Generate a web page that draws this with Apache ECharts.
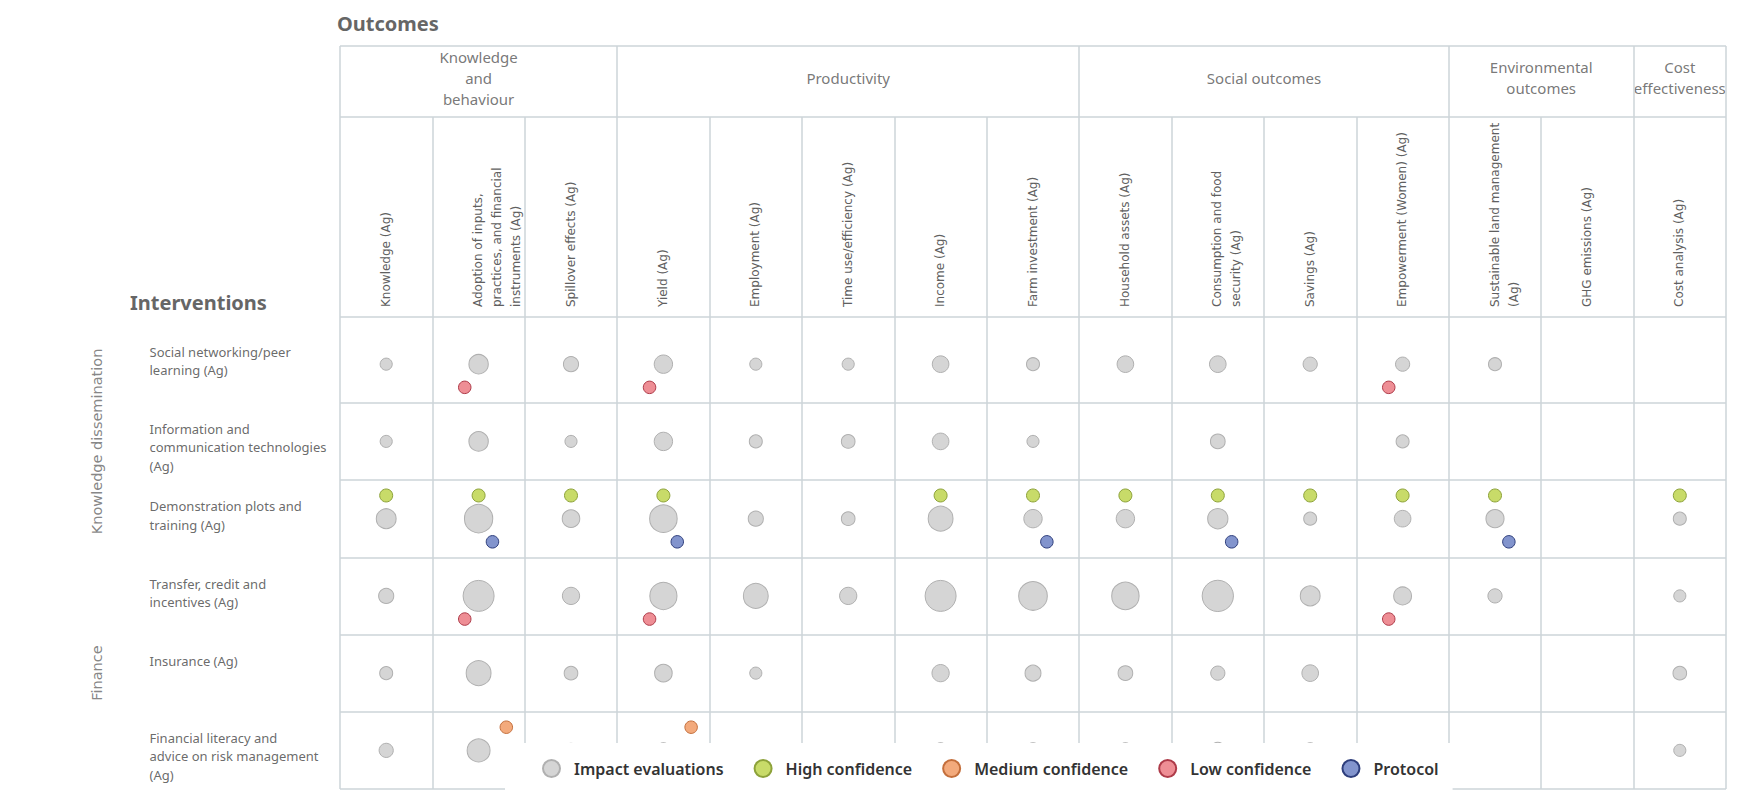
<!DOCTYPE html>
<html><head><meta charset="utf-8">
<script src="https://cdn.jsdelivr.net/npm/echarts@6/dist/echarts.min.js"></script>
<style>html,body{margin:0;padding:0;background:#fff;overflow:hidden}#c{width:1763px;height:795px}</style>
</head><body><div id="c"></div>
<script>
// ---------------- DATA ----------------
const outcomeLabels = [
  'Knowledge (Ag)',
  'Adoption of inputs,\npractices, and financial\ninstruments (Ag)',
  'Spillover effects (Ag)',
  'Yield (Ag)',
  'Employment (Ag)',
  'Time use/efficiency (Ag)',
  'Income (Ag)',
  'Farm investment (Ag)',
  'Household assets (Ag)',
  'Consumption and food\nsecurity (Ag)',
  'Savings (Ag)',
  'Empowerment (Women) (Ag)',
  'Sustainable land management\n(Ag)',
  'GHG emissions (Ag)',
  'Cost analysis (Ag)'
];
const outcomeGroups = ['Knowledge\nand\nbehaviour', 'Productivity', 'Social outcomes', 'Environmental\noutcomes', 'Cost\neffectiveness'];
const outcomeGroupSpans = [3, 5, 4, 2, 1];
const interventions = [
  'Social networking/peer\nlearning (Ag)',
  'Information and\ncommunication technologies\n(Ag)',
  'Demonstration plots and\ntraining (Ag)',
  'Transfer, credit and\nincentives (Ag)',
  'Insurance (Ag)',
  'Financial literacy and\nadvice on risk management\n(Ag)'
];
const interventionGroups = ['Knowledge dissemination', 'Finance'];
const interventionGroupSpans = [3, 3];
// number of impact evaluations per cell (rows = interventions, cols = outcomes; null = none)
const impactEvaluations = [
  [1, 20, 6, 16, 1, 1, 10, 2, 10, 10, 4, 4, 2, null, null],
  [1, 20, 1, 16, 2, 3, 10, 1, null, 5, null, 2, null, null, null],
  [22, 76, 13, 70, 6, 3, 50, 16, 16, 24, 2, 10, 15, null, 2],
  [6, 100, 12, 67, 50, 12, 100, 79, 69, 103, 22, 14, 4, null, 1],
  [2, 50, 3, 13, 1, null, 12, 8, 5, 4, 10, null, null, null, 3],
  [4, 38, 4, 6, null, null, 6, 6, 6, 8, 6, null, null, null, 1]
];
// cells [row, col] holding a systematic review of each confidence level, or a protocol
const highConfidence = [[2,0],[2,1],[2,2],[2,3],[2,6],[2,7],[2,8],[2,9],[2,10],[2,11],[2,12],[2,14]];
const mediumConfidence = [[5,1],[5,3]];
const lowConfidence = [[0,1],[0,3],[0,11],[3,1],[3,3],[3,11]];
const protocols = [[2,1],[2,3],[2,7],[2,9],[2,12]];
const legendNames = ['Impact evaluations', 'High confidence', 'Medium confidence', 'Low confidence', 'Protocol'];

// ---------------- STYLE / LAYOUT ----------------
const LINE = '#cdd5d9';
const LINE_W = 1.5;
const GRID_LEFT = 340, GRID_W = 1386;
const Y_MIN = -2.7, Y_MAX = 6;
const HEADER_LINE = -0.12;
const COL = {
  impact: ['#d5d5d5', '#b0b0b0'],
  high: ['#c8db69', '#8da23a'],
  medium: ['#f3aa7c', '#c46f3c'],
  low: ['#ee8e95', '#ae3b49'],
  protocol: ['#8294cd', '#2e3e7c']
};
const ICON = 'path://M8,0A8,8,0,1,1,8,16A8,8,0,1,1,8,0Z';

const impactData = [];
impactEvaluations.forEach((row, r) => row.forEach((n, c) => {
  if (n != null) impactData.push([c + 0.5, r + 0.5, n]);
}));
function cellPoints(list, dx, dy) { return list.map(([r, c]) => [c + 0.5 + dx, r + 0.5 + dy]); }

const groupBounds = [0];
outcomeGroupSpans.forEach(s => groupBounds.push(groupBounds[groupBounds.length - 1] + s));
const groupCenters = outcomeGroupSpans.map((s, i) => groupBounds[i] + s / 2);
const ivBounds = [0];
interventionGroupSpans.forEach(s => ivBounds.push(ivBounds[ivBounds.length - 1] + s));

const rowLines = [{ yAxis: HEADER_LINE }];
for (let i = 1; i <= interventions.length; i++) rowLines.push({ yAxis: i });

function dotSeries(name, key, data, size) {
  return {
    name, type: 'scatter', xAxisIndex: 0, yAxisIndex: 0, data,
    symbol: 'circle', symbolSize: size, z: 4,
    itemStyle: { color: COL[key][0], borderColor: COL[key][1], borderWidth: 1, opacity: 1 },
    emphasis: { disabled: true }, silent: true
  };
}

const chart = echarts.init(document.getElementById('c'), null, { renderer: 'svg', width: 1763, height: 795 });
chart.setOption({
  animation: false,
  backgroundColor: '#fff',
  title: [
    { text: 'Outcomes', left: 337, top: 11, padding: 0,
      textStyle: { fontFamily: 'Noto Sans', fontSize: 20, fontWeight: 'bold', color: '#666', lineHeight: 24 } },
    { text: 'Interventions', left: 130, top: 290, padding: 0,
      textStyle: { fontFamily: 'Noto Sans', fontSize: 20, fontWeight: 'bold', color: '#666', lineHeight: 24 } }
  ],
  legend: {
    data: legendNames,
    left: 505, top: 743, orient: 'horizontal',
    backgroundColor: '#fff', padding: [16, 14, 16, 37],
    itemGap: 30, itemWidth: 17, itemHeight: 21, icon: ICON,
    selectedMode: false, z: 50,
    textStyle: { fontFamily: 'Noto Sans', fontSize: 16, fontWeight: 600, color: '#333', padding: [0, 0, 0, 9] }
  },
  grid: [
    { left: GRID_LEFT, top: 117, width: GRID_W, height: 672 },
    { left: GRID_LEFT, top: 46, width: GRID_W, height: 71 },
    { left: 0, top: 117, width: GRID_LEFT, height: 672 }
  ],
  xAxis: [
    { type: 'value', gridIndex: 0, min: 0, max: outcomeLabels.length, interval: 1,
      axisLine: { show: false }, axisTick: { show: false }, axisLabel: { show: false },
      splitLine: { show: true, lineStyle: { color: LINE, width: LINE_W } } },
    { type: 'category', gridIndex: 0, data: outcomeLabels, position: 'top', offset: -199,
      axisLine: { show: false }, axisTick: { show: false }, splitLine: { show: false },
      axisLabel: { rotate: -90, interval: 0, margin: 9, hideOverlap: false,
        fontFamily: 'DejaVu Sans', fontSize: 12, color: '#606060', lineHeight: 19,
        verticalAlign: 'top', padding: [-10, 0, 0, 0] } },
    { type: 'value', gridIndex: 1, min: 0, max: outcomeLabels.length, show: false },
    { type: 'value', gridIndex: 2, min: 0, max: GRID_LEFT, show: false }
  ],
  yAxis: [
    { type: 'value', gridIndex: 0, min: Y_MIN, max: Y_MAX, inverse: true, show: false, splitLine: { show: false } },
    { type: 'value', gridIndex: 1, min: 0, max: 1, inverse: true, show: false },
    { type: 'value', gridIndex: 2, min: Y_MIN, max: Y_MAX, inverse: true, show: false }
  ],
  series: [
    {
      name: 'Impact evaluations', type: 'scatter', xAxisIndex: 0, yAxisIndex: 0,
      data: impactData, symbol: 'circle', z: 3, silent: true,
      symbolSize: v => 10 + 2.1 * Math.sqrt(v[2]),
      itemStyle: { color: COL.impact[0], borderColor: COL.impact[1], borderWidth: 1, opacity: 1 },
      emphasis: { disabled: true },
      markLine: { silent: true, symbol: ['none', 'none'], label: { show: false }, animation: false,
        lineStyle: { color: LINE, width: LINE_W, type: 'solid' }, data: rowLines }
    },
    dotSeries('High confidence', 'high', cellPoints(highConfidence, 0, -0.3), 13),
    dotSeries('Medium confidence', 'medium', cellPoints(mediumConfidence, 0.3, -0.3), 12.5),
    dotSeries('Low confidence', 'low', cellPoints(lowConfidence, -0.15, 0.3), 12.5),
    dotSeries('Protocol', 'protocol', cellPoints(protocols, 0.15, 0.3), 12.5),
    {
      name: 'groups', type: 'scatter', xAxisIndex: 2, yAxisIndex: 1, silent: true,
      symbolSize: 1, itemStyle: { color: 'transparent' },
      data: outcomeGroups.map((g, i) => ({ name: g, value: [groupCenters[i], 0.45] })),
      label: { show: true, position: 'inside', formatter: '{b}', align: 'center', verticalAlign: 'middle',
        fontFamily: 'Noto Sans', fontSize: 15, color: '#555', lineHeight: 21 },
      markLine: { silent: true, symbol: ['none', 'none'], label: { show: false }, animation: false,
        lineStyle: { color: LINE, width: LINE_W, type: 'solid' },
        data: groupBounds.map(b => ({ xAxis: b })).concat([{ yAxis: 0 }, { yAxis: 1 }]) }
    },
    {
      name: 'rows', type: 'scatter', xAxisIndex: 3, yAxisIndex: 2, silent: true,
      symbolSize: 1, itemStyle: { color: 'transparent' },
      data: interventions.map((n, i) => ({ name: n, value: [150, i + 0.5] })),
      label: { show: true, position: [0, -21], formatter: '{b}', align: 'left', verticalAlign: 'top',
        fontFamily: 'Noto Sans', fontSize: 13, color: '#444', lineHeight: 18.3 }
    },
    {
      name: 'rowGroups', type: 'scatter', xAxisIndex: 3, yAxisIndex: 2, silent: true,
      symbolSize: 1, itemStyle: { color: 'transparent' },
      data: interventionGroups.map((n, i) => ({ name: n, value: [90, ivBounds[i] + interventionGroupSpans[i] / 2] })),
      label: { show: true, position: 'inside', rotate: 90, offset: [0, 7], formatter: '{b}', align: 'center', verticalAlign: 'middle',
        fontFamily: 'DejaVu Sans', fontSize: 14.5, color: '#666' }
    }
  ]
});
</script>
</body></html>
